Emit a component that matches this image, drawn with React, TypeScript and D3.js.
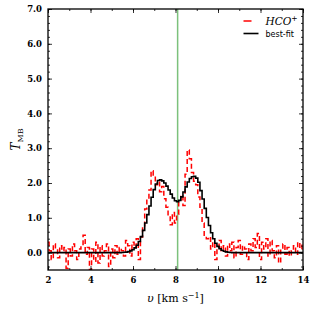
import React, { useEffect, useRef } from 'react';
import * as d3 from 'd3';

// channel velocities (km/s), 0.1 spacing from 2.0 to 14.0
const velocity: number[] = d3.range(0, 121).map(i => +(2 + i * 0.1).toFixed(1));

// observed HCO+ spectrum (T_MB), one value per channel
const hcoValues: number[] = [
  0.30, 0.05, -0.20, 0.25, 0.10, -0.15, 0.20, 0.05, 0.15, -0.45,
  0.10, -0.10, 0.25, 0.05, -0.20, 0.10, 0.20, 0.50, -0.05, 0.15,
  -0.50, 0.10, -0.25, 0.30, -0.30, 0.20, -0.10, 0.05, 0.25, -0.40,
  0.10, -0.15, 0.20, -0.05, 0.15, 0.05, -0.10, 0.35, 0.20, -0.10,
  0.30, 0.15, 0.40, -0.20, 0.45, 0.75, 1.25, 1.55, 1.80, 2.35,
  2.20, 1.95, 2.05, 1.75, 1.90, 1.55, 1.30, 1.05, 0.80, 1.15,
  0.85, 1.10, 1.45, 1.65, 1.35, 2.25, 2.95, 2.70, 2.30, 2.05,
  1.95, 1.60, 1.30, 0.85, 0.50, 0.40, 0.45, 0.10, 0.30, -0.20,
  0.15, 0.35, 0.05, 0.20, -0.10, 0.25, 0.05, 0.30, -0.15, 0.15,
  0.35, -0.05, 0.20, 0.10, -0.20, 0.25, 0.05, 0.40, 0.15, 0.55,
  -0.20, 0.30, 0.10, 0.40, -0.10, 0.35, 0.05, -0.15, 0.20, -0.30,
  0.10, 0.25, -0.05, 0.15, -0.10, 0.05, 0.20, -0.05, 0.30, 0.10,
  0.25,
];

// best-fit model, one value per channel
const fitValues: number[] = [
  0, 0, 0, 0, 0, 0, 0, 0, 0, 0,
  0, 0, 0, 0, 0, 0, 0, 0, 0, 0,
  0, 0, 0, 0, 0, 0, 0, 0, 0, 0,
  0, 0, 0, 0, 0, 0.004, 0.008, 0.015, 0.028, 0.049,
  0.083, 0.135, 0.21, 0.32, 0.46, 0.64, 0.85, 1.09, 1.34, 1.59,
  1.81, 1.97, 2.07, 2.09, 2.06, 2.00, 1.91, 1.80, 1.68, 1.57,
  1.49, 1.46, 1.50, 1.60, 1.74, 1.89, 2.03, 2.13, 2.18, 2.19,
  2.14, 2.02, 1.78, 1.54, 1.27, 1.01, 0.78, 0.57, 0.40, 0.27,
  0.18, 0.11, 0.067, 0.039, 0.021, 0.011, 0.005, 0, 0, 0,
  0, 0, 0, 0, 0, 0, 0, 0, 0, 0,
  0, 0, 0, 0, 0, 0, 0, 0, 0, 0,
  0, 0, 0, 0, 0, 0, 0, 0, 0, 0,
  0,
];

const systemicVelocity = 8.1;
const yTickLabels = ['0.0', '1.0', '2.0', '3.0', '4.0', '5.0', '6.0', '7.0'];
const xTickLabels = ['2', '4', '6', '8', '10', '12', '14'];

const W = 319;
const H = 319;
const margin = { top: 9, right: 16, bottom: 49, left: 48 };

export default function App() {
  const ref = useRef<SVGSVGElement>(null);

  useEffect(() => {
    const svg = d3.select(ref.current);
    svg.selectAll('*').remove();

    const iw = W - margin.left - margin.right;
    const ih = H - margin.top - margin.bottom;

    const x = d3.scaleLinear().domain([2, 14]).range([0, iw]);
    const y = d3.scaleLinear().domain([-0.5, 7]).range([ih, 0]);

    svg.append('rect').attr('width', W).attr('height', H).attr('fill', '#fff');

    const g = svg.append('g').attr('transform', `translate(${margin.left},${margin.top})`);

    g.append('clipPath').attr('id', 'plot-clip')
      .append('rect').attr('width', iw).attr('height', ih);

    const plot = g.append('g').attr('clip-path', 'url(#plot-clip)');

    // systemic velocity marker
    plot.append('line')
      .attr('x1', x(systemicVelocity)).attr('x2', x(systemicVelocity))
      .attr('y1', 0).attr('y2', ih)
      .attr('stroke', '#7cc17c').attr('stroke-width', 1.5);

    const step = d3.line<number>()
      .x((_, i) => x(velocity[i]))
      .y(d => y(d))
      .curve(d3.curveStep);

    plot.append('path')
      .datum(hcoValues)
      .attr('d', step)
      .attr('fill', 'none')
      .attr('stroke', '#ff0000')
      .attr('stroke-width', 1.5)
      .attr('stroke-dasharray', '5,3');

    plot.append('path')
      .datum(fitValues)
      .attr('d', step)
      .attr('fill', 'none')
      .attr('stroke', '#000')
      .attr('stroke-width', 1.6);

    // axes with inward ticks on all four sides
    const tickFont = (sel: any) => sel.selectAll('text')
      .attr('font-family', '"DejaVu Serif", serif')
      .attr('font-weight', 'bold')
      .attr('font-size', 8.5)
      .attr('fill', '#000');

    const yMajor = yTickLabels.map(Number);
    const yMinor = d3.range(-0.4, 7.0001, 0.2).map(v => +v.toFixed(1));
    const xMajor = xTickLabels.map(Number);
    const xMinor = d3.range(2, 14.0001, 1);

    const left = g.append('g')
      .call(d3.axisLeft(y).tickValues(yMajor).tickFormat((_, i) => yTickLabels[i]).tickSizeInner(-4).tickSizeOuter(0).tickPadding(6));
    tickFont(left);
    g.append('g').call(d3.axisLeft(y).tickValues(yMinor).tickFormat(() => '').tickSizeInner(-2).tickSizeOuter(0));

    const bottom = g.append('g').attr('transform', `translate(0,${ih})`)
      .call(d3.axisBottom(x).tickValues(xMajor).tickFormat((_, i) => xTickLabels[i]).tickSizeInner(-4).tickSizeOuter(0).tickPadding(7));
    tickFont(bottom);
    g.append('g').attr('transform', `translate(0,${ih})`)
      .call(d3.axisBottom(x).tickValues(xMinor).tickFormat(() => '').tickSizeInner(-2).tickSizeOuter(0));

    g.append('g').call(d3.axisTop(x).tickValues(xMajor).tickFormat(() => '').tickSizeInner(-4).tickSizeOuter(0));
    g.append('g').call(d3.axisTop(x).tickValues(xMinor).tickFormat(() => '').tickSizeInner(-2).tickSizeOuter(0));
    g.append('g').attr('transform', `translate(${iw},0)`)
      .call(d3.axisRight(y).tickValues(yMajor).tickFormat(() => '').tickSizeInner(-4).tickSizeOuter(0));
    g.append('g').attr('transform', `translate(${iw},0)`)
      .call(d3.axisRight(y).tickValues(yMinor).tickFormat(() => '').tickSizeInner(-2).tickSizeOuter(0));

    g.selectAll('.domain').remove();
    g.selectAll('.tick line').attr('stroke', '#000').attr('stroke-width', 0.8);

    g.append('rect')
      .attr('width', iw).attr('height', ih)
      .attr('fill', 'none').attr('stroke', '#000').attr('stroke-width', 1.3);

    // axis labels
    const xl = svg.append('text')
      .attr('x', margin.left + iw / 2).attr('y', 302)
      .attr('text-anchor', 'middle')
      .attr('font-family', '"DejaVu Serif", serif')
      .attr('font-size', 11);
    xl.append('tspan').attr('font-style', 'italic').text('υ');
    xl.append('tspan').text(' [km s');
    xl.append('tspan').attr('dy', -4.5).attr('font-size', 8).text('−1');
    xl.append('tspan').attr('dy', 4.5).text(']');

    const yl = svg.append('text')
      .attr('transform', `translate(20,${margin.top + ih / 2}) rotate(-90)`)
      .attr('text-anchor', 'middle')
      .attr('font-family', '"DejaVu Serif", serif')
      .attr('font-size', 12);
    yl.append('tspan').attr('font-style', 'italic').text('T');
    yl.append('tspan').attr('dy', 3).attr('font-size', 8).text('MB');

    // legend
    const lg = g.append('g').attr('transform', `translate(${x(11.2)},0)`);
    lg.append('line').attr('x1', 0).attr('x2', 8).attr('y1', 12).attr('y2', 12)
      .attr('stroke', '#ff0000').attr('stroke-width', 1.5);
    const t1 = lg.append('text').attr('x', 22).attr('y', 16)
      .attr('font-family', '"DejaVu Serif", serif').attr('font-style', 'italic').attr('font-size', 10.5);
    t1.append('tspan').text('HCO');
    t1.append('tspan').attr('dy', -4.5).attr('font-size', 7.5).attr('font-style', 'normal').text('+');
    lg.append('line').attr('x1', 0).attr('x2', 15).attr('y1', 24.5).attr('y2', 24.5)
      .attr('stroke', '#000').attr('stroke-width', 1.6);
    lg.append('text').attr('x', 22).attr('y', 27.5)
      .attr('font-family', '"DejaVu Sans", sans-serif').attr('font-size', 8).text('best-fit');
  }, []);

  return (
    <div style={{ position: 'fixed', left: 0, top: 0 }}>
      <svg ref={ref} width={W} height={H} />
    </div>
  );
}
